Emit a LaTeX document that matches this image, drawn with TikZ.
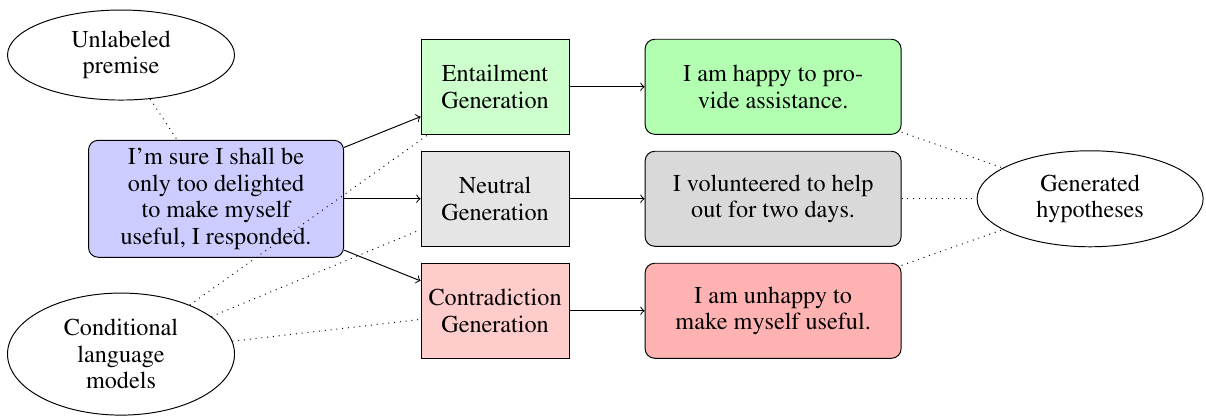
\documentclass[tikz,border=0pt]{standalone}
\usepackage[T1]{fontenc}
\usepackage{times}
\usetikzlibrary{shapes.geometric}

\begin{document}
\begin{tikzpicture}[
                every node/.style={font=\rmfamily\fontsize{10pt}{11pt}\selectfont, align=center},
                genbox/.style={draw, minimum width=2.149cm, minimum height=1.38cm, inner sep=1pt},
                hypbox/.style={draw, rounded corners, minimum width=3.717cm, minimum height=1.38cm, inner sep=1pt},
                dataell/.style={draw, ellipse, inner sep=0pt}]
                \useasboundingbox (0,0) rectangle (17.51,6.056);
                \node[dataell, minimum width=3.296cm, minimum height=1.307cm] (prem) at (1.757,5.257) {Unlabeled\\premise};
                \node[dataell, minimum width=3.296cm, minimum height=1.772cm] (clm) at (1.757,0.915) {Conditional\\language\\models};
                \node[draw, rounded corners, fill=blue!20, minimum width=3.703cm, minimum height=1.699cm, inner sep=1pt] (src) at (3.137,3.17) {I'm sure I shall be\\only too delighted\\to make myself\\useful, I responded.};
                \node[genbox, fill=green!20] (ent) at (7.188,4.796) {Entailment\\Generation};
                \node[genbox, fill=gray!20] (neu) at (7.188,3.17) {Neutral\\Generation};
                \node[genbox, fill=red!20] (con) at (7.188,1.544) {Contradiction\\Generation};
                \node[hypbox, fill=green!30] (enthyp) at (11.225,4.796) {I am happy to pro-\\vide assistance.};
                \node[hypbox, fill=gray!30] (neuhyp) at (11.225,3.17) {I volunteered to help\\out for two days.};
                \node[hypbox, fill=red!30] (conhyp) at (11.225,1.544) {I am unhappy to\\make myself useful.};
                \node[dataell, minimum width=3.282cm, minimum height=1.394cm] (hyp) at (15.828,3.17) {Generated\\hypotheses};
                \draw[->] (src) -- (ent);
                \draw[->] (src) -- (neu);
                \draw[->] (src) -- (con);
                \draw[->] (ent) -- (enthyp);
                \draw[->] (neu) -- (neuhyp);
                \draw[->] (con) -- (conhyp);
                \draw[dotted] (prem) -- (src);
                \draw[dotted] (clm) -- (ent);
                \draw[dotted] (clm) -- (neu);
                \draw[dotted] (clm) -- (con);
                \draw[dotted] (enthyp) -- (hyp);
                \draw[dotted] (neuhyp) -- (hyp);
                \draw[dotted] (conhyp) -- (hyp);
        \end{tikzpicture}
\end{document}
